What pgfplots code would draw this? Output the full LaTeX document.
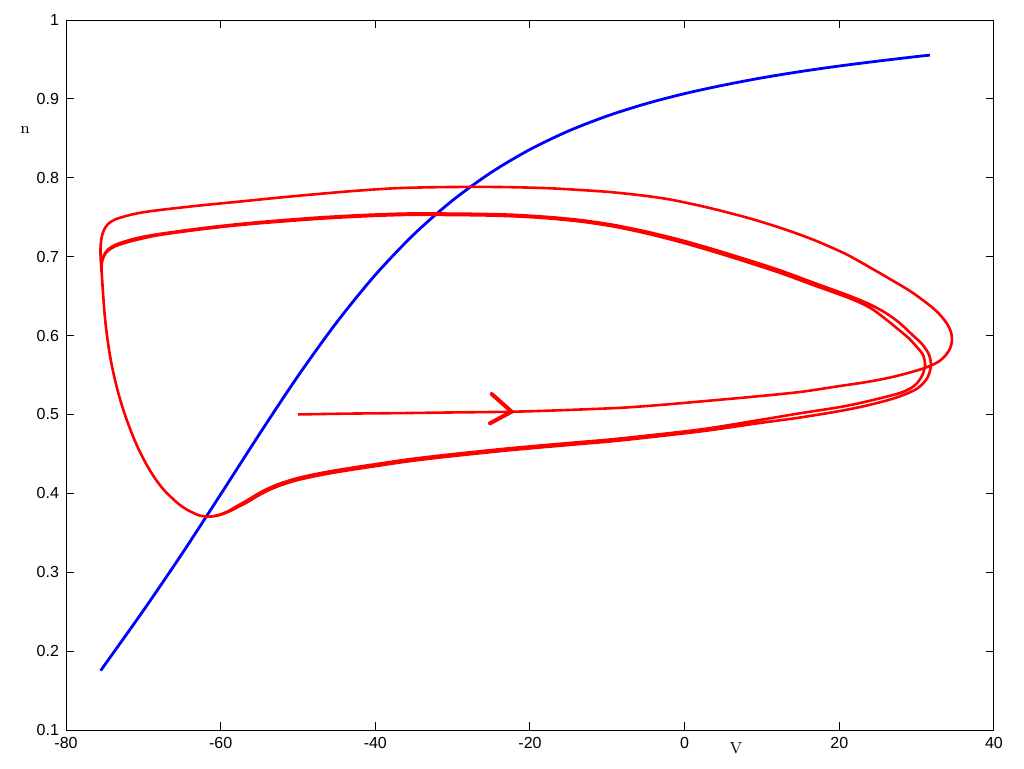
\documentclass[border=0pt]{standalone}
\usepackage{pgfplots}
\pgfplotsset{compat=1.18}
\usepackage{fontspec}
\newfontfamily\ticfont{Liberation Sans}

\definecolor{gpred}{RGB}{255,0,0}
\definecolor{gpblue}{RGB}{0,0,255}

\begin{document}
\begin{tikzpicture}[x=1pt,y=1pt]
\path[use as bounding box] (-33,-19) rectangle (479,365);
\begin{axis}[
    at={(0,0)}, anchor=south west,
    scale only axis,
    width=464pt, height=355pt,
    xmin=-80, xmax=40,
    ymin=0.1, ymax=1,
    xtick={-80,-60,-40,-20,0,20,40},
    ytick={0.1,0.2,0.3,0.4,0.5,0.6,0.7,0.8,0.9,1},
    tick align=inside,
    major tick length=4pt,
    tick style={black, line width=0.5pt},
    axis line style={black, line width=0.5pt},
    /pgf/number format/assume math mode=true,
    ticklabel style={font=\ticfont\fontsize{8}{9}\selectfont},
    xlabel={V},
    ylabel={n},
    xlabel style={font=\rmfamily\fontsize{8}{9}\selectfont, at={(axis description cs:0.722,0)}, anchor=center, yshift=-9pt},
    ylabel style={font=\rmfamily\fontsize{8}{9}\selectfont, rotate=-90, at={(axis description cs:0,0.845)}, anchor=center, xshift=-20.5pt},
]
% n_inf(V)
\addplot[gpblue, line width=1.4pt, smooth] coordinates {
(-75.47,0.1760) (-75,0.1824) (-70,0.2514) (-65,0.3234) (-60,0.3987) (-55,0.4749)
(-50,0.5487) (-45,0.6167) (-40,0.6769) (-35,0.7284) (-30,0.7714) (-25,0.8069)
(-20,0.8359) (-15,0.8594) (-10,0.8784) (-5,0.8939) (0,0.9067) (5,0.9174)
(10,0.9267) (15,0.9347) (20,0.9417) (25,0.9479) (30,0.9537) (31.72,0.9555)
};
% trajectory
\addplot[gpred, line width=1.3pt, smooth] coordinates {
(-50.00,0.5000) (-43.28,0.5011) (-36.81,0.5017) (-30.34,0.5025) (-22.20,0.5035)
(-16.12,0.5053) (-8.36,0.5084) (-3.19,0.5120) (1.98,0.5164) (8.45,0.5221)
(14.91,0.5285) (20.09,0.5361) (23.54,0.5411) (26.55,0.5468) (29.14,0.5532)
(31.21,0.5595) (32.76,0.5665) (33.79,0.5754) (34.37,0.5849) (34.57,0.5944)
(34.44,0.6045) (33.99,0.6140) (33.21,0.6242) (32.11,0.6349) (30.69,0.6457)
(29.14,0.6565) (26.98,0.6692) (23.97,0.6863) (20.95,0.7028) (17.50,0.7180)
(14.49,0.7294) (11.03,0.7408) (8.02,0.7496) (4.57,0.7585) (1.56,0.7655)
(-1.90,0.7725) (-4.91,0.7769) (-8.36,0.7807) (-10.95,0.7829) (-17.41,0.7867)
(-23.88,0.7883) (-30.34,0.7883) (-36.81,0.7870) (-41.98,0.7839) (-47.16,0.7797)
(-52.33,0.7750) (-57.50,0.7699) (-62.67,0.7649) (-67.84,0.7592) (-70.43,0.7556)
(-72.15,0.7518) (-73.66,0.7471) (-74.57,0.7414) (-75.09,0.7338) (-75.38,0.7249)
(-75.53,0.7126) (-75.53,0.7008) (-75.45,0.6869)
(-75.32,0.6704) (-75.24,0.6577) (-75.15,0.6451) (-75.05,0.6324) (-74.93,0.6197)
(-74.79,0.6070) (-74.62,0.5944) (-74.43,0.5817) (-74.21,0.5690) (-73.95,0.5563)
(-73.66,0.5437) (-73.34,0.5310) (-72.98,0.5183) (-72.58,0.5056) (-72.14,0.4930)
(-71.66,0.4803) (-71.14,0.4676) (-70.56,0.4549) (-69.91,0.4423) (-69.18,0.4296)
(-68.34,0.4169) (-67.33,0.4042) (-66.03,0.3916) (-65.26,0.3852) (-64.29,0.3789)
(-63.51,0.3751) (-62.74,0.3719) (-61.60,0.3704)
(-60.34,0.3719) (-59.05,0.3763) (-57.89,0.3820) (-56.63,0.3884) (-55.34,0.3960)
(-53.88,0.4036) (-52.33,0.4099) (-50.26,0.4163) (-48.02,0.4213) (-45.86,0.4254)
(-43.70,0.4289) (-41.59,0.4321) (-39.40,0.4353) (-35.94,0.4403) (-31.64,0.4454)
(-27.37,0.4499) (-23.01,0.4543) (-18.71,0.4581) (-13.53,0.4625) (-8.36,0.4670)
(1.98,0.4784) (9.74,0.4892) (14.91,0.4961) (20.09,0.5044) (23.54,0.5113)
(26.55,0.5189) (28.62,0.5259) (30.17,0.5335) (31.34,0.5456) (31.85,0.5614)
(31.59,0.5760) (30.69,0.5893) (29.40,0.6013) (27.72,0.6166) (25.91,0.6292)
(23.97,0.6394) (21.38,0.6501) (16.59,0.6673) (12.33,0.6827) (8.02,0.6964)
(3.66,0.7095) (-0.60,0.7214) (-5.00,0.7319) (-9.27,0.7404) (-13.53,0.7465)
(-17.84,0.7505) (-22.20,0.7531) (-26.47,0.7542) (-32.93,0.7548) (-36.81,0.7545)
(-41.98,0.7526) (-47.16,0.7498) (-52.33,0.7460) (-57.50,0.7415) (-62.67,0.7358)
(-67.84,0.7289) (-70.43,0.7244) (-72.15,0.7200) (-73.66,0.7148) (-74.57,0.7091)
(-75.09,0.7021) (-75.34,0.6939) (-75.41,0.6856)
(-75.32,0.6704) (-75.24,0.6577) (-75.15,0.6451) (-75.05,0.6324) (-74.93,0.6197)
(-74.79,0.6070) (-74.62,0.5944) (-74.43,0.5817) (-74.21,0.5690) (-73.95,0.5563)
(-73.66,0.5437) (-73.34,0.5310) (-72.98,0.5183) (-72.58,0.5056) (-72.14,0.4930)
(-71.66,0.4803) (-71.14,0.4676) (-70.56,0.4549) (-69.91,0.4423) (-69.18,0.4296)
(-68.34,0.4169) (-67.33,0.4042) (-66.03,0.3916) (-65.26,0.3852) (-64.29,0.3789)
(-63.51,0.3751) (-62.74,0.3719) (-61.60,0.3704)
(-60.34,0.3724) (-59.05,0.3773) (-57.89,0.3838) (-56.63,0.3908) (-55.34,0.3985)
(-53.88,0.4061) (-52.33,0.4124) (-50.26,0.4188) (-48.02,0.4238) (-45.86,0.4279)
(-43.70,0.4314) (-41.59,0.4346) (-39.40,0.4378) (-35.94,0.4428) (-31.64,0.4479)
(-27.37,0.4524) (-23.01,0.4568) (-18.71,0.4606) (-13.53,0.4650) (-8.36,0.4695)
(1.98,0.4809) (9.74,0.4930) (14.91,0.5015) (20.09,0.5094) (23.54,0.5164)
(27.84,0.5272) (29.66,0.5361) (30.69,0.5487) (31.08,0.5627) (30.82,0.5754)
(29.91,0.5868) (28.88,0.5975) (27.33,0.6102) (25.65,0.6235) (23.97,0.6352)
(21.38,0.6471) (16.59,0.6642) (12.33,0.6795) (8.02,0.6933) (3.66,0.7066)
(-0.60,0.7187) (-5.00,0.7296) (-9.27,0.7384) (-13.53,0.7446) (-17.84,0.7487)
(-22.20,0.7512) (-26.47,0.7524) (-32.93,0.7530) (-36.81,0.7528) (-41.98,0.7509)
(-47.16,0.7481) (-52.33,0.7444) (-57.50,0.7401) (-62.67,0.7345) (-67.84,0.7276)
(-70.43,0.7224) (-72.15,0.7181) (-73.66,0.7131) (-74.57,0.7076) (-75.09,0.7007)
(-75.34,0.6932) (-75.41,0.6856) (-75.32,0.6704)
};
% direction arrow
\addplot[gpred, line width=2pt, line cap=round] coordinates {
(-24.95,0.5259) (-22.37,0.5035) (-25.17,0.4888)
};
\end{axis}
\end{tikzpicture}
\end{document}
